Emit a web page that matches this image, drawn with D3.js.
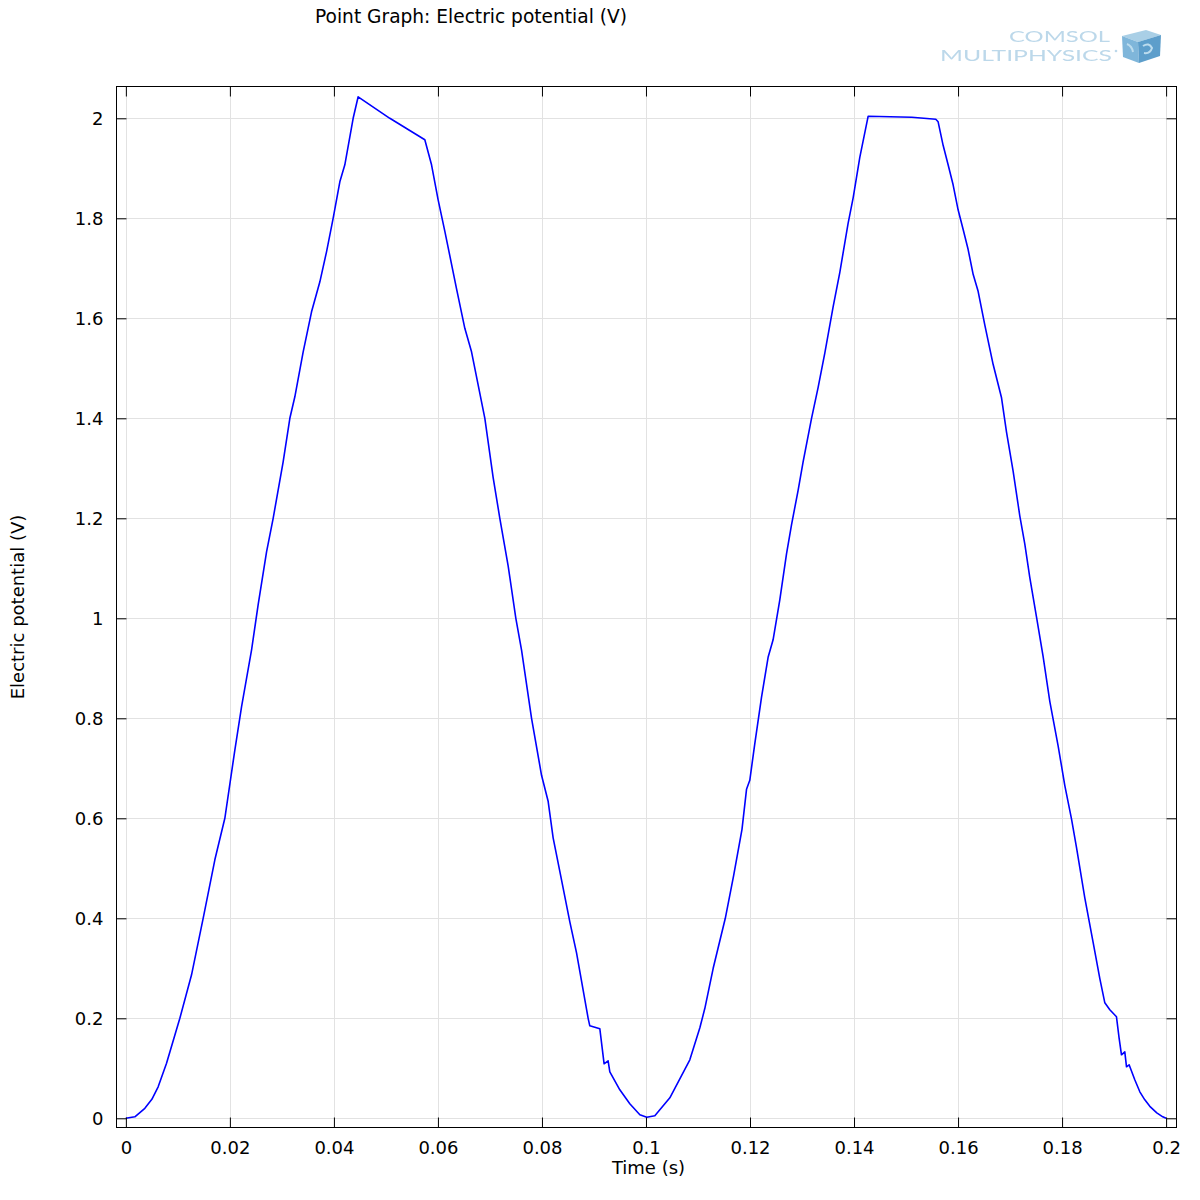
<!DOCTYPE html>
<html>
<head>
<meta charset="utf-8">
<script src="https://d3js.org/d3.v7.min.js"></script>
<style>
  html, body { margin: 0; padding: 0; background: #ffffff; }
  svg { display: block; }
</style>
</head>
<body>
<svg id="chart" width="1200" height="1200"></svg>
<script>
// ---- data ----
const titleText = "Point Graph: Electric potential (V)";
const xLabel = "Time (s)";
const yLabel = "Electric potential (V)";
const xTicks = [0, 0.02, 0.04, 0.06, 0.08, 0.1, 0.12, 0.14, 0.16, 0.18, 0.2];
const yTicks = [0, 0.2, 0.4, 0.6, 0.8, 1, 1.2, 1.4, 1.6, 1.8, 2];

const time = [
  0, 0.00173, 0.00365, 0.00500, 0.00621, 0.00782, 0.01038, 0.01263, 0.01486, 0.01711, 0.01903,
  0.02096, 0.02224, 0.02417, 0.02543, 0.02705, 0.02832, 0.03024, 0.03153, 0.03249, 0.03409,
  0.03570, 0.03730, 0.03858, 0.03985, 0.04114, 0.04210, 0.04370, 0.04466, 0.05075, 0.05748,
  0.05877, 0.06004, 0.06133, 0.06358, 0.06517, 0.06646, 0.06902, 0.07061, 0.07190, 0.07350,
  0.07498, 0.07607, 0.07800, 0.07992, 0.08119, 0.08215, 0.08376, 0.08536, 0.08665, 0.08888,
  0.08920, 0.09113, 0.09195, 0.09272, 0.09305, 0.09497, 0.09689, 0.09882, 0.10016, 0.10170,
  0.10459, 0.10843, 0.11036, 0.11132, 0.11292, 0.11525, 0.11686, 0.11846, 0.11933, 0.11996,
  0.12093, 0.12221, 0.12348, 0.12444, 0.12573, 0.12702, 0.12798, 0.12925, 0.13021, 0.13183,
  0.13310, 0.13439, 0.13598, 0.13727, 0.13886, 0.13983, 0.14111, 0.14271, 0.15111, 0.15572,
  0.15617, 0.15713, 0.15809, 0.15905, 0.16001, 0.16097, 0.16193, 0.16290, 0.16386, 0.16514,
  0.16674, 0.16836, 0.16931, 0.17058, 0.17187, 0.17283, 0.17379, 0.17508, 0.17635, 0.17764,
  0.17924, 0.18052, 0.18181, 0.18277, 0.18437, 0.18597, 0.18725, 0.18822, 0.18918, 0.19046,
  0.19096, 0.19142, 0.19206, 0.19239, 0.19289, 0.19398, 0.19495, 0.19591, 0.19687, 0.19821,
  0.19936, 0.2
];
const potential = [
  0, 0.003, 0.020, 0.038, 0.063, 0.110, 0.200, 0.287, 0.400, 0.517, 0.600,
  0.737, 0.823, 0.937, 1.027, 1.133, 1.200, 1.313, 1.400, 1.443, 1.533,
  1.613, 1.673, 1.733, 1.800, 1.873, 1.907, 2.000, 2.043, 2.000, 1.957,
  1.907, 1.837, 1.774, 1.659, 1.580, 1.533, 1.400, 1.282, 1.200, 1.105,
  1.000, 0.937, 0.800, 0.686, 0.634, 0.561, 0.477, 0.393, 0.331, 0.200,
  0.185, 0.179, 0.109, 0.115, 0.093, 0.057, 0.029, 0.007, 0.002, 0.005,
  0.041, 0.117, 0.181, 0.220, 0.300, 0.400, 0.486, 0.578, 0.658, 0.676,
  0.750, 0.842, 0.922, 0.957, 1.037, 1.129, 1.187, 1.256, 1.313, 1.400,
  1.462, 1.531, 1.623, 1.692, 1.790, 1.841, 1.922, 2.004, 2.002, 1.998,
  1.993, 1.946, 1.907, 1.867, 1.817, 1.778, 1.738, 1.688, 1.654, 1.587,
  1.508, 1.441, 1.373, 1.295, 1.205, 1.149, 1.082, 1.003, 0.924, 0.834,
  0.745, 0.666, 0.599, 0.542, 0.441, 0.352, 0.280, 0.231, 0.217, 0.203,
  0.161, 0.127, 0.133, 0.103, 0.107, 0.077, 0.053, 0.037, 0.024, 0.011,
  0.003, 0
];

// ---- layout ----
const svg = d3.select("#chart");
const FONT = "'DejaVu Sans', Verdana, sans-serif";
const L = 116.5, R = 1176.5, T = 86.5, B = 1127.5;

const x = d3.scaleLinear().domain([-0.0018, 0.2020]).range([L, R]);
const y = d3.scaleLinear().domain([-0.0194, 2.0646]).range([B + 0.5, T - 0.5]);
const px = v => Math.round(v) + 0.5;

// gridlines
const grid = svg.append("g").attr("stroke", "#e2e2e2").attr("stroke-width", 1);
grid.selectAll("line.gx").data(xTicks).join("line")
  .attr("x1", d => px(x(d))).attr("x2", d => px(x(d)))
  .attr("y1", T).attr("y2", B);
grid.selectAll("line.gy").data(yTicks).join("line")
  .attr("x1", L).attr("x2", R)
  .attr("y1", d => px(y(d))).attr("y2", d => px(y(d)));

// curve
const defs = svg.append("defs");
defs.append("clipPath").attr("id", "clip")
  .append("rect").attr("x", L).attr("y", T).attr("width", R - L).attr("height", B - T);
const pts = time.map((t, i) => [t, potential[i]]);
svg.append("path")
  .datum(pts)
  .attr("clip-path", "url(#clip)")
  .attr("fill", "none")
  .attr("stroke", "#0000ff")
  .attr("stroke-width", 1.6)
  .attr("stroke-linejoin", "round")
  .attr("d", d3.line().x(d => x(d[0])).y(d => y(d[1])));

// axes (inward ticks on all four sides)
const fmt = d3.format("~g");
function styleAxis(g) {
  g.select(".domain").remove();
  g.selectAll(".tick line").attr("stroke", "#000").attr("stroke-width", 1);
  g.selectAll(".tick text").attr("fill", "#000").style("font-family", FONT).style("font-size", "18px");
}
svg.append("g").attr("transform", `translate(0,${B})`)
  .call(d3.axisBottom(x).tickValues(xTicks).tickFormat(fmt).tickSize(-10).tickPadding(14).offset(0.5))
  .call(styleAxis);
svg.append("g").attr("transform", `translate(0,${T})`)
  .call(d3.axisTop(x).tickValues(xTicks).tickFormat("").tickSize(-10).offset(0.5))
  .call(styleAxis);
svg.append("g").attr("transform", `translate(${L},0)`)
  .call(d3.axisLeft(y).tickValues(yTicks).tickFormat(fmt).tickSize(-10).tickPadding(13).offset(0.5))
  .call(styleAxis);
svg.append("g").attr("transform", `translate(${R},0)`)
  .call(d3.axisRight(y).tickValues(yTicks).tickFormat("").tickSize(-10).offset(0.5))
  .call(styleAxis);

// frame
svg.append("rect").attr("x", L).attr("y", T).attr("width", R - L).attr("height", B - T)
  .attr("fill", "none").attr("stroke", "#000").attr("stroke-width", 1);

// labels
svg.append("text").attr("x", 315).attr("y", 23)
  .style("font-family", FONT).style("font-size", "18.6px").attr("fill", "#000")
  .text(titleText);
svg.append("text").attr("x", (L + R) / 2 + 2).attr("y", 1174).attr("text-anchor", "middle")
  .style("font-family", FONT).style("font-size", "18px").attr("fill", "#000")
  .text(xLabel);
svg.append("text").attr("transform", `translate(24,${(T + B) / 2}) rotate(-90)`)
  .attr("text-anchor", "middle")
  .style("font-family", FONT).style("font-size", "18px").attr("fill", "#000")
  .text(yLabel);

// faint COMSOL Multiphysics logo
defs.append("filter").attr("id", "soft").append("feGaussianBlur").attr("stdDeviation", 0.6);
const logo = svg.append("g").attr("filter", "url(#soft)");
logo.append("text").attr("x", 1009).attr("y", 42)
  .attr("textLength", 101).attr("lengthAdjust", "spacingAndGlyphs")
  .style("font-family", "Lato, sans-serif").style("font-weight", 400).style("font-size", "15px")
  .attr("fill", "#bcd8ea").text("COMSOL");
logo.append("text").attr("x", 940).attr("y", 61)
  .attr("textLength", 172).attr("lengthAdjust", "spacingAndGlyphs")
  .style("font-family", "Lato, sans-serif").style("font-weight", 400).style("font-size", "15.5px")
  .attr("fill", "#bcd8ea").text("MULTIPHYSICS");
logo.append("circle").attr("cx", 1116).attr("cy", 51).attr("r", 1.3).attr("fill", "#bcd8ea");
// cube
logo.append("polygon").attr("points", "1122,36 1146,30 1161,35 1138,42").attr("fill", "#a9cfe6");
logo.append("polygon").attr("points", "1122,36 1138,42 1139,63 1123,57").attr("fill", "#7fb6da");
logo.append("polygon").attr("points", "1138,42 1161,35 1160,56 1139,63").attr("fill", "#5d9ecb");
logo.append("path").attr("d", "M1143,46 q6,-4 9,2 q-2,6 -8,5").attr("fill", "none")
  .attr("stroke", "#bcdcee").attr("stroke-width", 2);
logo.append("path").attr("d", "M1127,44 q5,2 6,8").attr("fill", "none")
  .attr("stroke", "#bcdcee").attr("stroke-width", 2);
</script>
</body>
</html>
